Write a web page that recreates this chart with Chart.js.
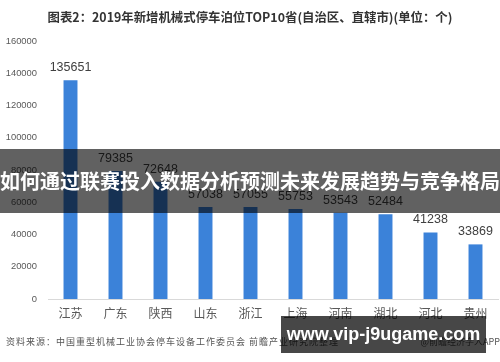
<!DOCTYPE html>
<html>
<head>
<meta charset="utf-8">
<script src="https://cdn.jsdelivr.net/npm/chart.js@4"></script>
<style>
  body { margin: 0; background: #fff; }
  #wrap { position: relative; width: 500px; height: 362px; overflow: hidden; font-family: "Noto Sans CJK SC", sans-serif; }
  #title { position: absolute; left: 0; top: 8px; width: 500px; text-align: center; font-size: 12.4px; font-weight: bold; color: #333; white-space: nowrap; }
  #source { position: absolute; left: 6px; top: 335px; font-size: 9px; letter-spacing: 1px; color: #555; white-space: nowrap; }
  #app { position: absolute; right: 0; top: 335px; font-size: 9px; color: #555; white-space: nowrap; }
  #band { position: absolute; left: 0; top: 149px; width: 500px; height: 64px; background: rgba(0,0,0,0.62); color: #fff; font-size: 20px; font-weight: bold; line-height: 64px; text-align: center; white-space: nowrap; }
  #site { position: absolute; left: 281px; top: 316px; width: 205px; height: 37px; background: rgba(0,0,0,0.72); color: #fff; font-family: "Liberation Sans", sans-serif; font-size: 18px; font-weight: bold; line-height: 37px; text-align: center; white-space: nowrap; }
</style>
</head>
<body>
<div id="wrap">
  <canvas id="chart" width="500" height="362"></canvas>
  <div id="title">图表2：2019年新增机械式停车泊位TOP10省(自治区、直辖市)(单位：个)</div>
  <div id="source">资料来源：中国重型机械工业协会停车设备工作委员会 前瞻产业研究院整理</div>
  <div id="app">@前瞻经济学人APP</div>
  <div id="band">如何通过联赛投入数据分析预测未来发展趋势与竞争格局</div>
  <div id="site">www.vip-j9ugame.com</div>
</div>
<script>
// provinces and new mechanical parking spaces in 2019
let provinces = ['江苏', '广东', '陕西', '山东', '浙江', '上海', '河南', '湖北', '河北', '贵州']
let spaces = [135651, 79385, 72648, 57038, 57055, 55753, 53543, 52484, 41238, 33869]

let yMax = 160000
let yStep = 20000

// draw the value above each bar
let valueLabels = {
    id: 'valueLabels',
    afterDatasetsDraw(chart) {
        let ctx = chart.ctx
        let meta = chart.getDatasetMeta(0)
        ctx.save()
        ctx.font = '12.5px "Liberation Sans", sans-serif'
        ctx.fillStyle = '#404040'
        ctx.textAlign = 'center'
        ctx.textBaseline = 'middle'
        meta.data.forEach(function(bar, i) {
            ctx.fillText(spaces[i], bar.x, bar.y - 12.5)
        })
        ctx.restore()
    }
}

let ctx = document.querySelector('#chart').getContext('2d')

let spacesChart = new Chart(ctx, {
    type: 'bar',
    data: {
        labels: provinces,
        datasets: [
            {
                data: spaces,
                backgroundColor: '#3b82d9',
                categoryPercentage: 1,
                barPercentage: 0.31
            }
        ]
    },
    options: {
        responsive: false,
        animation: false,
        layout: { padding: { top: 41, right: 2, bottom: 37, left: 0 } },
        plugins: {
            legend: { display: false },
            tooltip: { enabled: false }
        },
        scales: {
            x: {
                grid: { display: false, drawTicks: false },
                border: { color: '#d9d9d9' },
                ticks: {
                    color: '#595959',
                    padding: 7,
                    font: { family: '"Noto Sans CJK SC"', size: 12 }
                },
                afterFit: function(scale) { scale.height = 26 }
            },
            y: {
                min: 0,
                max: yMax,
                grid: { display: false, drawTicks: false },
                border: { display: false },
                ticks: {
                    stepSize: yStep,
                    color: '#595959',
                    padding: 11,
                    font: { family: '"Liberation Sans"', size: 9.4 },
                    // plain numbers, no thousands separator
                    callback: function(value) { return String(value) }
                },
                afterFit: function(scale) { scale.width = 48 }
            }
        }
    },
    plugins: [valueLabels]
})
</script>
</body>
</html>
